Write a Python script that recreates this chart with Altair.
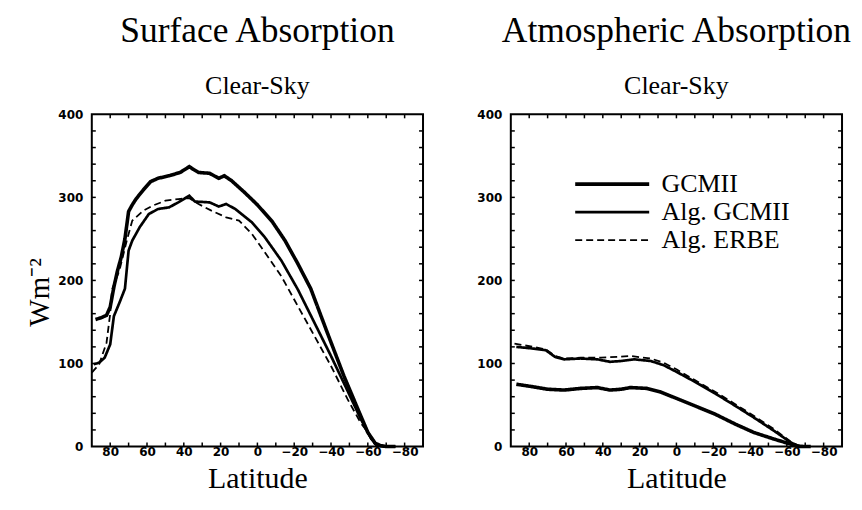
import altair as alt
import pandas as pd

series_names = ["GCMII", "Alg. GCMII", "Alg. ERBE"]

# Surface absorption, clear-sky
sfc_gcm_lat = [88, 85, 82, 80, 78, 76, 74, 72, 70, 68, 66, 62, 58, 54, 48, 42, 37, 35, 32, 26, 21, 18, 14, 7, 0, -8, -15, -22, -29, -38, -47, -55, -60, -64, -67, -70, -75]
sfc_gcm_val = [153, 155, 158, 168, 192, 212, 228, 250, 283, 291, 298, 309, 319, 323, 326, 330, 337, 334, 330, 329, 323, 326, 320, 306, 291, 271, 248, 220, 190, 137, 85, 43, 17, 4, 1, 0, 0]

sfc_alg_lat = [89, 86, 83, 80, 78, 75, 72, 70, 68, 64, 59, 54, 48, 43, 37, 34, 26, 21, 17, 12, 3, -4, -13, -22, -31, -40, -49, -56, -62, -65, -70, -75]
sfc_alg_val = [99, 101, 107, 123, 157, 173, 190, 236, 248, 264, 280, 286, 288, 294, 302, 295, 294, 289, 292, 286, 270, 252, 224, 189, 149, 109, 67, 34, 9, 2, 0, 0]

sfc_erbe_lat = [90, 86, 82, 80, 79, 75, 71, 68, 62, 57, 50, 43, 37, 32, 25, 17, 10, 3, -4, -13, -22, -31, -40, -49, -56, -60, -62, -65, -70]
sfc_erbe_val = [89, 99, 125, 160, 189, 212, 248, 272, 284, 290, 296, 298, 299, 292, 284, 276, 272, 256, 234, 205, 169, 133, 97, 57, 29, 17, 8, 0, 0]

# Atmospheric absorption, clear-sky
atm_gcm_lat = [87, 78, 70, 61, 52, 43, 36, 30, 25, 16, 9, 0, -10, -21, -32, -42, -53, -62, -67, -73]
atm_gcm_val = [75, 72, 69, 68, 70, 71, 68, 69, 71, 70, 66, 58, 49, 39, 27, 17, 9, 3, 0, 0]

atm_alg_lat = [87, 78, 71, 66, 61, 52, 43, 36, 30, 23, 14, 7, 0, -10, -21, -32, -42, -53, -62, -66, -70]
atm_alg_val = [120, 118, 116, 108, 105, 106, 105, 102, 103, 105, 103, 98, 90, 78, 64, 49, 35, 19, 5, 1, 0]

atm_erbe_lat = [88, 78, 71, 66, 61, 52, 41, 32, 25, 14, 7, 0, -10, -21, -32, -42, -53, -62, -67]
atm_erbe_val = [124, 120, 117, 109, 106, 107, 107, 108, 109, 106, 101, 93, 80, 66, 51, 37, 21, 6, 0]

x_labels = [80, 60, 40, 20, 0, -20, -40, -60, -80]
y_labels = [0, 100, 200, 300, 400]
x_ticks = list(range(-80, 90, 10))
y_ticks = list(range(20, 400, 20))

W, H = 332, 333
TL = 4


def long_df(parts):
    rows = []
    for name, lats, vals in parts:
        for la, v in zip(lats, vals):
            rows.append({"lat": la, "val": v, "series": name})
    return pd.DataFrame(rows)


sfc_df = long_df([("GCMII", sfc_gcm_lat, sfc_gcm_val),
                  ("Alg. GCMII", sfc_alg_lat, sfc_alg_val),
                  ("Alg. ERBE", sfc_erbe_lat, sfc_erbe_val)])
atm_df = long_df([("GCMII", atm_gcm_lat, atm_gcm_val),
                  ("Alg. GCMII", atm_alg_lat, atm_alg_val),
                  ("Alg. ERBE", atm_erbe_lat, atm_erbe_val)])
xt_df = pd.DataFrame({"lat": x_ticks})
yt_df = pd.DataFrame({"val": y_ticks})

xscale = alt.Scale(domain=[90, -90], nice=False, zero=False)
yscale = alt.Scale(domain=[0, 400], nice=False)


def panel(df, title, ytitle, legend):
    xaxis = alt.Axis(values=x_labels, title="Latitude", ticks=False, domain=False, grid=False,
                     labelFont="DejaVu Sans", labelFontWeight="bold", labelFontSize=12,
                     labelColor="black", labelPadding=0,
                     titleFont="Liberation Serif", titleFontSize=30, titleFontWeight="normal",
                     titleColor="black", titlePadding=6)
    yaxis = alt.Axis(values=y_labels, title=ytitle, ticks=False, domain=False, grid=False,
                     labelFont="DejaVu Sans", labelFontWeight="bold", labelFontSize=12,
                     labelColor="black", labelPadding=9,
                     titleFont="Liberation Serif", titleFontSize=29, titleFontWeight="normal",
                     titleColor="black", titlePadding=3, titleY=178)
    lines = alt.Chart(df).mark_line(color="black", strokeCap="butt").encode(
        x=alt.X("lat:Q", scale=xscale, axis=xaxis),
        y=alt.Y("val:Q", scale=yscale, axis=yaxis),
        strokeWidth=alt.StrokeWidth("series:N", sort=series_names,
                                    scale=alt.Scale(domain=series_names, range=[3.6, 1.8, 1.8]),
                                    legend=legend),
        strokeDash=alt.StrokeDash("series:N", sort=series_names,
                                  scale=alt.Scale(domain=series_names, range=[[1, 0], [1, 0], [7, 4]]),
                                  legend=legend),
        detail="series:N",
    )
    xb = alt.Chart(xt_df).mark_rule(color="black", strokeWidth=1.5).encode(
        x=alt.X("lat:Q", scale=xscale), y=alt.value(H), y2=alt.value(H - TL))
    xtp = alt.Chart(xt_df).mark_rule(color="black", strokeWidth=1.5).encode(
        x=alt.X("lat:Q", scale=xscale), y=alt.value(0), y2=alt.value(TL))
    yl = alt.Chart(yt_df).mark_rule(color="black", strokeWidth=1.5).encode(
        y=alt.Y("val:Q", scale=yscale), x=alt.value(0), x2=alt.value(TL))
    yr = alt.Chart(yt_df).mark_rule(color="black", strokeWidth=1.5).encode(
        y=alt.Y("val:Q", scale=yscale), x=alt.value(W), x2=alt.value(W - TL))
    return alt.layer(lines, xb, xtp, yl, yr).properties(
        width=W, height=H,
        title=alt.TitleParams(text=title, subtitle="Clear-Sky", anchor="middle",
                              font="Liberation Serif", fontSize=35.5, fontWeight="normal", color="black",
                              subtitleFont="Liberation Serif", subtitleFontSize=26,
                              subtitleColor="black", subtitlePadding=24, offset=9),
    )


leg = alt.Legend(orient="none", legendX=122, legendY=57, title=None, symbolType="M-19,0H1",
                 symbolSize=55, symbolStrokeColor="black", labelFont="Liberation Serif",
                 labelFontSize=26, labelColor="black", labelOffset=3, rowPadding=2)

left = panel(sfc_df, "Surface Absorption", "Wm⁻²", None)
right = panel(atm_df, "Atmospheric Absorption", None, leg)

chart = alt.hconcat(left, right, spacing=50).resolve_scale(
    strokeWidth="independent", strokeDash="independent"
).properties(
    background="white", padding={"left": 16, "top": 4, "right": 0, "bottom": 0}
).configure_view(stroke="black", strokeWidth=2)

chart.save("out.html", embed_options={"renderer": "svg", "actions": False})
